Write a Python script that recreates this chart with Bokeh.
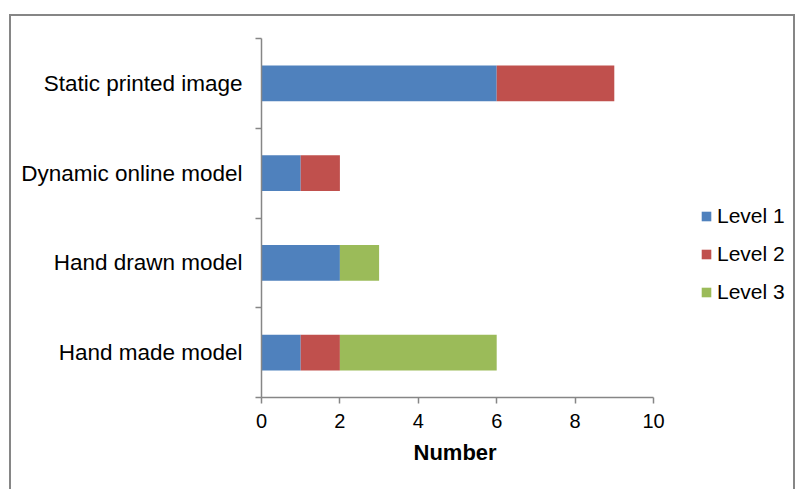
from bokeh.plotting import figure
from bokeh.models import FixedTicker, Legend, LegendItem, Range1d, Title
from bokeh.embed import file_html
from bokeh.resources import INLINE

# Categories listed bottom to top
categories = ["Hand made model", "Hand drawn model", "Dynamic online model", "Static printed image"]
level1 = [1, 2, 1, 6]
level2 = [1, 0, 1, 3]
level3 = [4, 1, 0, 0]
series_names = ["Level 1", "Level 2", "Level 3"]
colors = ["#4F81BD", "#C0504D", "#9BBB59"]
x_ticks = [0, 2, 4, 6, 8, 10]
x_max = 10
x_title = "Number"

FONT = "Liberation Sans"
AXIS_GRAY = "#868686"

# Frame geometry: the value axis spans 392 px; the frame continues to the
# right edge so the legend can sit inside it.
AXIS_PX = 392
FRAME_PX = 536

positions = [i + 0.5 for i in range(len(categories))]
data = {"y": positions, "Level 1": level1, "Level 2": level2, "Level 3": level3}

p = figure(width=786, height=475, output_backend="svg", toolbar_location=None,
           x_range=Range1d(0, x_max * FRAME_PX / AXIS_PX),
           y_range=Range1d(0, len(categories)),
           min_border_left=250, min_border_right=0, min_border_top=22,
           min_border_bottom=94)
p.outline_line_color = None
p.grid.grid_line_color = None
p.background_fill_color = "white"
p.border_fill_color = "white"
# outer chart border drawn around the canvas
p.styles = {"margin-left": "9px", "margin-top": "14px",
            "border": "2px solid #868686", "border-bottom": "none"}

renderers = p.hbar_stack(series_names, y="y", height=0.4, color=colors,
                         line_color=None, source=data)

# x axis, limited to 0..10
xa = p.xaxis[0]
xa.bounds = (0, x_max)
xa.ticker = FixedTicker(ticks=x_ticks)
xa.axis_line_color = AXIS_GRAY
xa.axis_line_width = 1.5
xa.major_tick_line_color = AXIS_GRAY
xa.major_tick_line_width = 1.5
xa.major_tick_in = 0
xa.major_tick_out = 6
xa.minor_tick_line_color = None
xa.major_label_text_font = FONT
xa.major_label_text_font_size = "20px"
xa.major_label_text_color = "black"
xa.major_label_standoff = 10

# axis title centred under the 0..10 span of the value axis
p.add_layout(Title(text=x_title, align="left", offset=152,
                   text_font=FONT, text_font_size="22px", text_font_style="bold",
                   text_color="black", standoff=15), "below")

# y axis: labels at category centres, tick marks between categories
ya = p.yaxis[0]
ya.ticker = FixedTicker(ticks=positions, minor_ticks=list(range(len(categories) + 1)))
ya.major_label_overrides = {pos: name for pos, name in zip(positions, categories)}
ya.axis_line_color = AXIS_GRAY
ya.axis_line_width = 1.5
ya.major_tick_line_color = None
ya.major_tick_in = 0
ya.major_tick_out = 0
ya.minor_tick_line_color = AXIS_GRAY
ya.minor_tick_line_width = 1.5
ya.minor_tick_in = 0
ya.minor_tick_out = 6
ya.major_label_text_font = FONT
ya.major_label_text_font_size = "22.5px"
ya.major_label_text_color = "black"
ya.major_label_standoff = 13

legend = Legend(items=[LegendItem(label=n, renderers=[r]) for n, r in zip(series_names, renderers)],
                location=(439, 93), orientation="vertical",
                label_text_font=FONT, label_text_font_size="21px",
                label_text_color="black", glyph_width=12, glyph_height=12,
                label_standoff=5, label_height=20, spacing=14, padding=0, margin=0,
                border_line_color=None, background_fill_alpha=0)
p.add_layout(legend)

open("out.html", "w").write(file_html(p, INLINE))
